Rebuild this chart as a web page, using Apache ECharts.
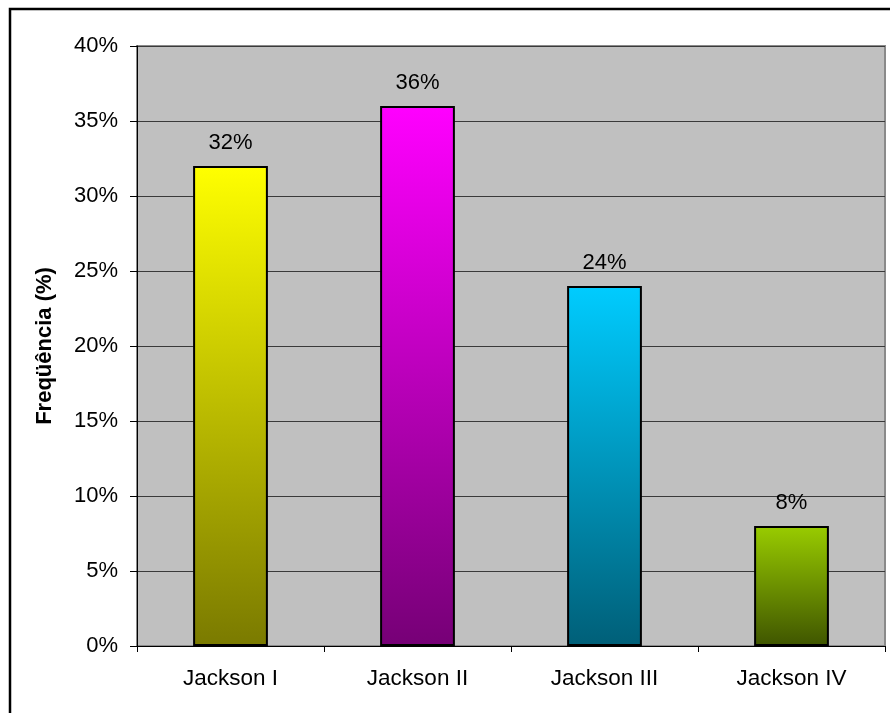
<!DOCTYPE html>
<html>
<head>
<meta charset="utf-8">
<script src="https://cdn.jsdelivr.net/npm/echarts@6/dist/echarts.min.js"></script>
<style>
  html, body { margin: 0; padding: 0; background: #fff; }
  #chart { width: 890px; height: 713px; }
</style>
</head>
<body>
<div id="chart"></div>
<script>
// Frequency of Jackson classes
const categories = ['Jackson I', 'Jackson II', 'Jackson III', 'Jackson IV'];
const values = [32, 36, 24, 8];
const topColors = ['#FFFF00', '#FF00FF', '#00CCFF', '#99CC00'];
const bottomColors = ['#7A7A00', '#760076', '#005F78', '#3F5500'];
const yTicks = [0, 5, 10, 15, 20, 25, 30, 35, 40];

const FONT = '"Liberation Sans", Arial, sans-serif';

const chart = echarts.init(document.getElementById('chart'));

const barData = values.map((v, i) => ({
  value: v,
  itemStyle: {
    color: new echarts.graphic.LinearGradient(0, 0, 0, 1, [
      { offset: 0, color: topColors[i] },
      { offset: 1, color: bottomColors[i] }
    ])
  }
}));

chart.setOption({
  backgroundColor: '#ffffff',
  animation: false,
  grid: {
    left: 137, top: 46, right: 5, bottom: 67,
    show: true,
    backgroundColor: '#C0C0C0',
    borderColor: '#8a8a8a',
    borderWidth: 2
  },
  xAxis: {
    type: 'category',
    data: categories,
    axisLine: { lineStyle: { color: '#000', width: 1 } },
    axisTick: { show: true, length: 6, alignWithLabel: false, lineStyle: { color: '#000' } },
    axisLabel: { color: '#000', fontFamily: FONT, fontSize: 22.5, margin: 21 },
    splitLine: { show: false }
  },
  yAxis: {
    type: 'value',
    min: yTicks[0],
    max: yTicks[yTicks.length - 1],
    interval: 5,
    name: 'Freqüência (%)',
    nameLocation: 'middle',
    nameGap: 81,
    nameTextStyle: { color: '#000', fontFamily: FONT, fontSize: 22, fontWeight: 'bold' },
    axisLine: { show: true, lineStyle: { color: '#000', width: 1 } },
    axisTick: { show: true, length: 7, lineStyle: { color: '#000' } },
    axisLabel: {
      color: '#000', fontFamily: FONT, fontSize: 22, margin: 19,
      formatter: v => v + '%'
    },
    splitLine: { show: true, lineStyle: { color: '#3a3a3a', width: 1 } }
  },
  series: [{
    type: 'bar',
    data: barData,
    barWidth: '40%',
    itemStyle: { borderColor: '#000', borderWidth: 2 },
    label: {
      show: true,
      position: 'top',
      distance: 12,
      color: '#000',
      fontFamily: FONT,
      fontSize: 22,
      formatter: p => p.value + '%'
    }
  }],
  graphic: [{
    type: 'rect',
    shape: { x: 10, y: 9, width: 900, height: 720 },
    style: { fill: 'none', stroke: '#000', lineWidth: 2.5 },
    silent: true,
    z: 100
  }]
});
</script>
</body>
</html>
